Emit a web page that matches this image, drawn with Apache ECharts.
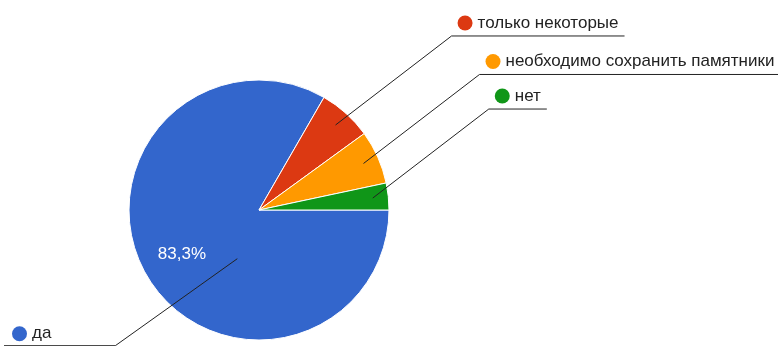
<!DOCTYPE html>
<html>
<head>
<meta charset="utf-8">
<script src="https://cdn.jsdelivr.net/npm/echarts@6/dist/echarts.min.js"></script>
<style>
  html, body { margin: 0; padding: 0; background: #fff; }
  #chart { width: 780px; height: 346px; }
</style>
</head>
<body>
<div id="chart"></div>
<script>
// answers and counts (30 responses)
const answers = ['да', 'только некоторые', 'необходимо сохранить памятники', 'нет'];
const counts = [25, 2, 2, 1];
const colors = ['#3366cc', '#dc3912', '#ff9900', '#109618'];

const chart = echarts.init(document.getElementById('chart'));

const cx = 259, cy = 210, R = 130;
const total = counts.reduce((a, b) => a + b, 0);
const font = 'Liberation Sans, Arial, sans-serif';

// mid angle of each slice (degrees, math convention, clockwise from 3 o'clock)
function midAngle(i) {
  let cum = 0;
  for (let k = 0; k < i; k++) cum += counts[k];
  return -(cum + counts[i] / 2) / total * 360;
}

function leaderLayout(params) {
  const i = params.dataIndex;
  const w = params.labelRect.width;
  if (i === 0) {
    // big slice: label sits at bottom left, line goes down-left
    const a = -114 * Math.PI / 180;
    const p0 = [cx + R * 0.41 * Math.cos(a), cy - R * 0.41 * Math.sin(a)];
    const p1 = [p0[0] - 122, p0[1] + 87];
    return {
      x: 12, y: p1[1] - 12, align: 'left', verticalAlign: 'middle',
      labelLinePoints: [p0, p1, [4, p1[1]]]
    };
  }
  const a = midAngle(i) * Math.PI / 180;
  const p0 = [cx + R * 0.88 * Math.cos(a), cy - R * 0.88 * Math.sin(a)];
  const p1 = [p0[0] + 116, p0[1] - 89];
  return {
    x: p1[0] + 6, y: p1[1] - 13, align: 'left', verticalAlign: 'middle',
    labelLinePoints: [p0, p1, [Math.min(p1[0] + 6 + w + 6, 778), p1[1]]]
  };
}

chart.setOption({
  animation: false,
  textStyle: { fontFamily: font },
  series: [
    {
      // the slices, with the percentage in the big one
      type: 'pie',
      z: 2,
      center: [cx, cy],
      radius: [0, R],
      startAngle: 0,
      clockwise: true,
      silent: true,
      itemStyle: { borderColor: '#fff', borderWidth: 1 },
      label: {
        show: true,
        position: 'inside',
        color: '#fff',
        fontSize: 17,
        fontFamily: font,
        formatter: p => p.dataIndex === 0 ? (p.value / total * 100).toFixed(1).replace('.', ',') + '%' : ''
      },
      labelLine: { show: false },
      labelLayout: p => p.dataIndex === 0 ? {
        x: cx + 89 * Math.cos(midAngle(0) * Math.PI / 180),
        y: cy - 89 * Math.sin(midAngle(0) * Math.PI / 180),
        align: 'center', verticalAlign: 'middle'
      } : {},
      data: answers.map((name, i) => ({ name, value: counts[i], itemStyle: { color: colors[i] } }))
    },
    {
      // transparent copy on top, carrying the leader lines and names
      type: 'pie',
      z: 5,
      center: [cx, cy],
      radius: [0, R],
      startAngle: 0,
      clockwise: true,
      silent: true,
      itemStyle: { color: 'rgba(0,0,0,0)' },
      label: {
        show: true,
        position: 'outside',
        formatter: p => '{dot|}{t|' + p.name + '}',
        rich: {
          t: { fontSize: 17, color: '#222', padding: [0, 0, 0, 5], fontFamily: font }
        }
      },
      labelLine: { show: true, lineStyle: { color: '#222', width: 1 } },
      labelLayout: leaderLayout,
      data: answers.map((name, i) => ({
        name, value: counts[i],
        label: { rich: { dot: { width: 15, height: 15, borderRadius: 7.5, backgroundColor: colors[i] } } }
      }))
    }
  ]
});
</script>
</body>
</html>
